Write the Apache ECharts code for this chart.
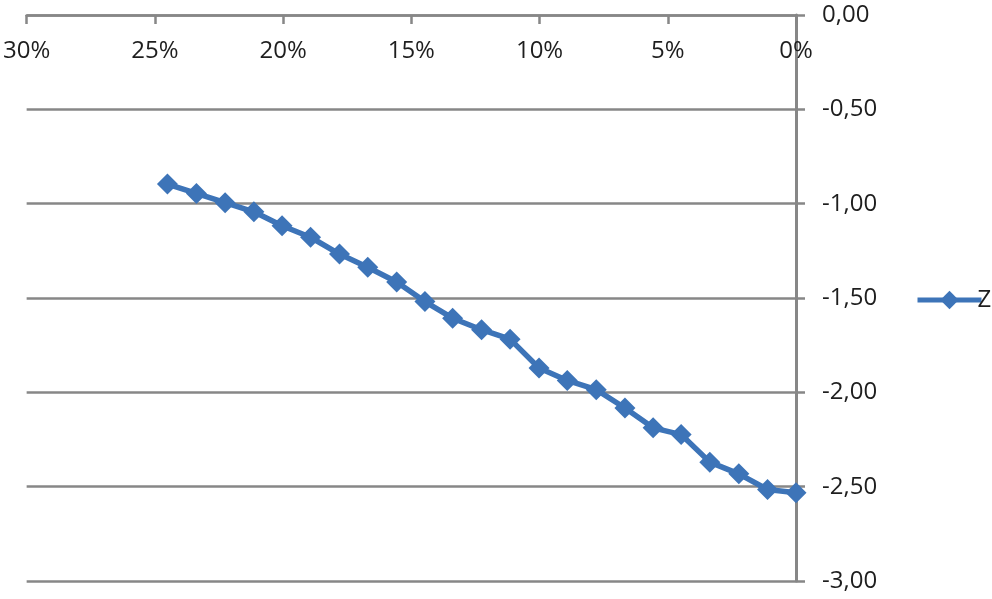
<!DOCTYPE html>
<html>
<head>
<meta charset="utf-8">
<script src="https://cdn.jsdelivr.net/npm/echarts@6/dist/echarts.min.js"></script>
<style>
  html, body { margin: 0; padding: 0; background: #fff; }
  #chart { width: 992px; height: 599px; }
</style>
</head>
<body>
<div id="chart"></div>
<script>
// x in percent, y values
const seriesName = "Z";
const xPercent = [24.51, 23.38, 22.26, 21.14, 20.04, 18.93, 17.80, 16.70, 15.57, 14.47, 13.39, 12.26,
  11.15, 10.02, 8.92, 7.79, 6.67, 5.57, 4.48, 3.36, 2.23, 1.11, 0];
const zValues = [-0.896, -0.946, -0.995, -1.043, -1.117, -1.178, -1.267, -1.337, -1.415, -1.519, -1.607, -1.668,
  -1.718, -1.871, -1.937, -1.986, -2.083, -2.188, -2.224, -2.370, -2.432, -2.515, -2.532];

const axisGray = "#878787";
const textColor = "#1e1e1e";
const lineBlue = "#3d74b8";
const font = "'Open Sans', 'Noto Sans', sans-serif";

const chart = echarts.init(document.getElementById("chart"));
chart.setOption({
  animation: false,
  backgroundColor: "#ffffff",
  grid: { left: 25, right: 196, top: 15, bottom: 18, containLabel: false },
  legend: {
    data: [seriesName],
    left: 910,
    top: 283,
    itemWidth: 64,
    itemHeight: 23,
    itemGap: 0,
    lineStyle: { color: lineBlue, width: 5 },
    itemStyle: { color: lineBlue },
    textStyle: { fontFamily: font, fontSize: 24, color: textColor, padding: [0, 0, 0, -9] }
  },
  xAxis: {
    type: "value",
    position: "top",
    inverse: true,
    min: 0,
    max: 30,
    interval: 5,
    axisLine: { show: true, onZero: false, lineStyle: { color: axisGray, width: 2.5 } },
    axisTick: { show: true, inside: true, length: 9, lineStyle: { color: axisGray, width: 2.5 } },
    splitLine: { show: false },
    axisLabel: {
      inside: true,
      margin: 24,
      showMinLabel: true,
      showMaxLabel: true,
      fontFamily: font,
      fontSize: 24,
      color: textColor,
      formatter: (value) => value + "%"
    }
  },
  yAxis: {
    type: "value",
    position: "right",
    min: -3,
    max: 0,
    interval: 0.5,
    axisLine: { show: true, onZero: false, lineStyle: { color: axisGray, width: 3 } },
    axisTick: { show: true, length: 9, lineStyle: { color: axisGray, width: 2.5 } },
    splitLine: { show: true, lineStyle: { color: axisGray, width: 2.5 } },
    axisLabel: {
      margin: 26,
      fontFamily: font,
      fontSize: 24,
      color: textColor,
      formatter: (value) => value.toFixed(2).replace(".", ",")
    }
  },
  series: [
    {
      name: seriesName,
      type: "line",
      data: xPercent.map((x, index) => [x, zValues[index]]),
      symbol: "diamond",
      symbolSize: 21,
      showAllSymbol: true,
      color: lineBlue,
      lineStyle: { color: lineBlue, width: 5.5 },
      itemStyle: { color: lineBlue }
    }
  ]
});
</script>
</body>
</html>
